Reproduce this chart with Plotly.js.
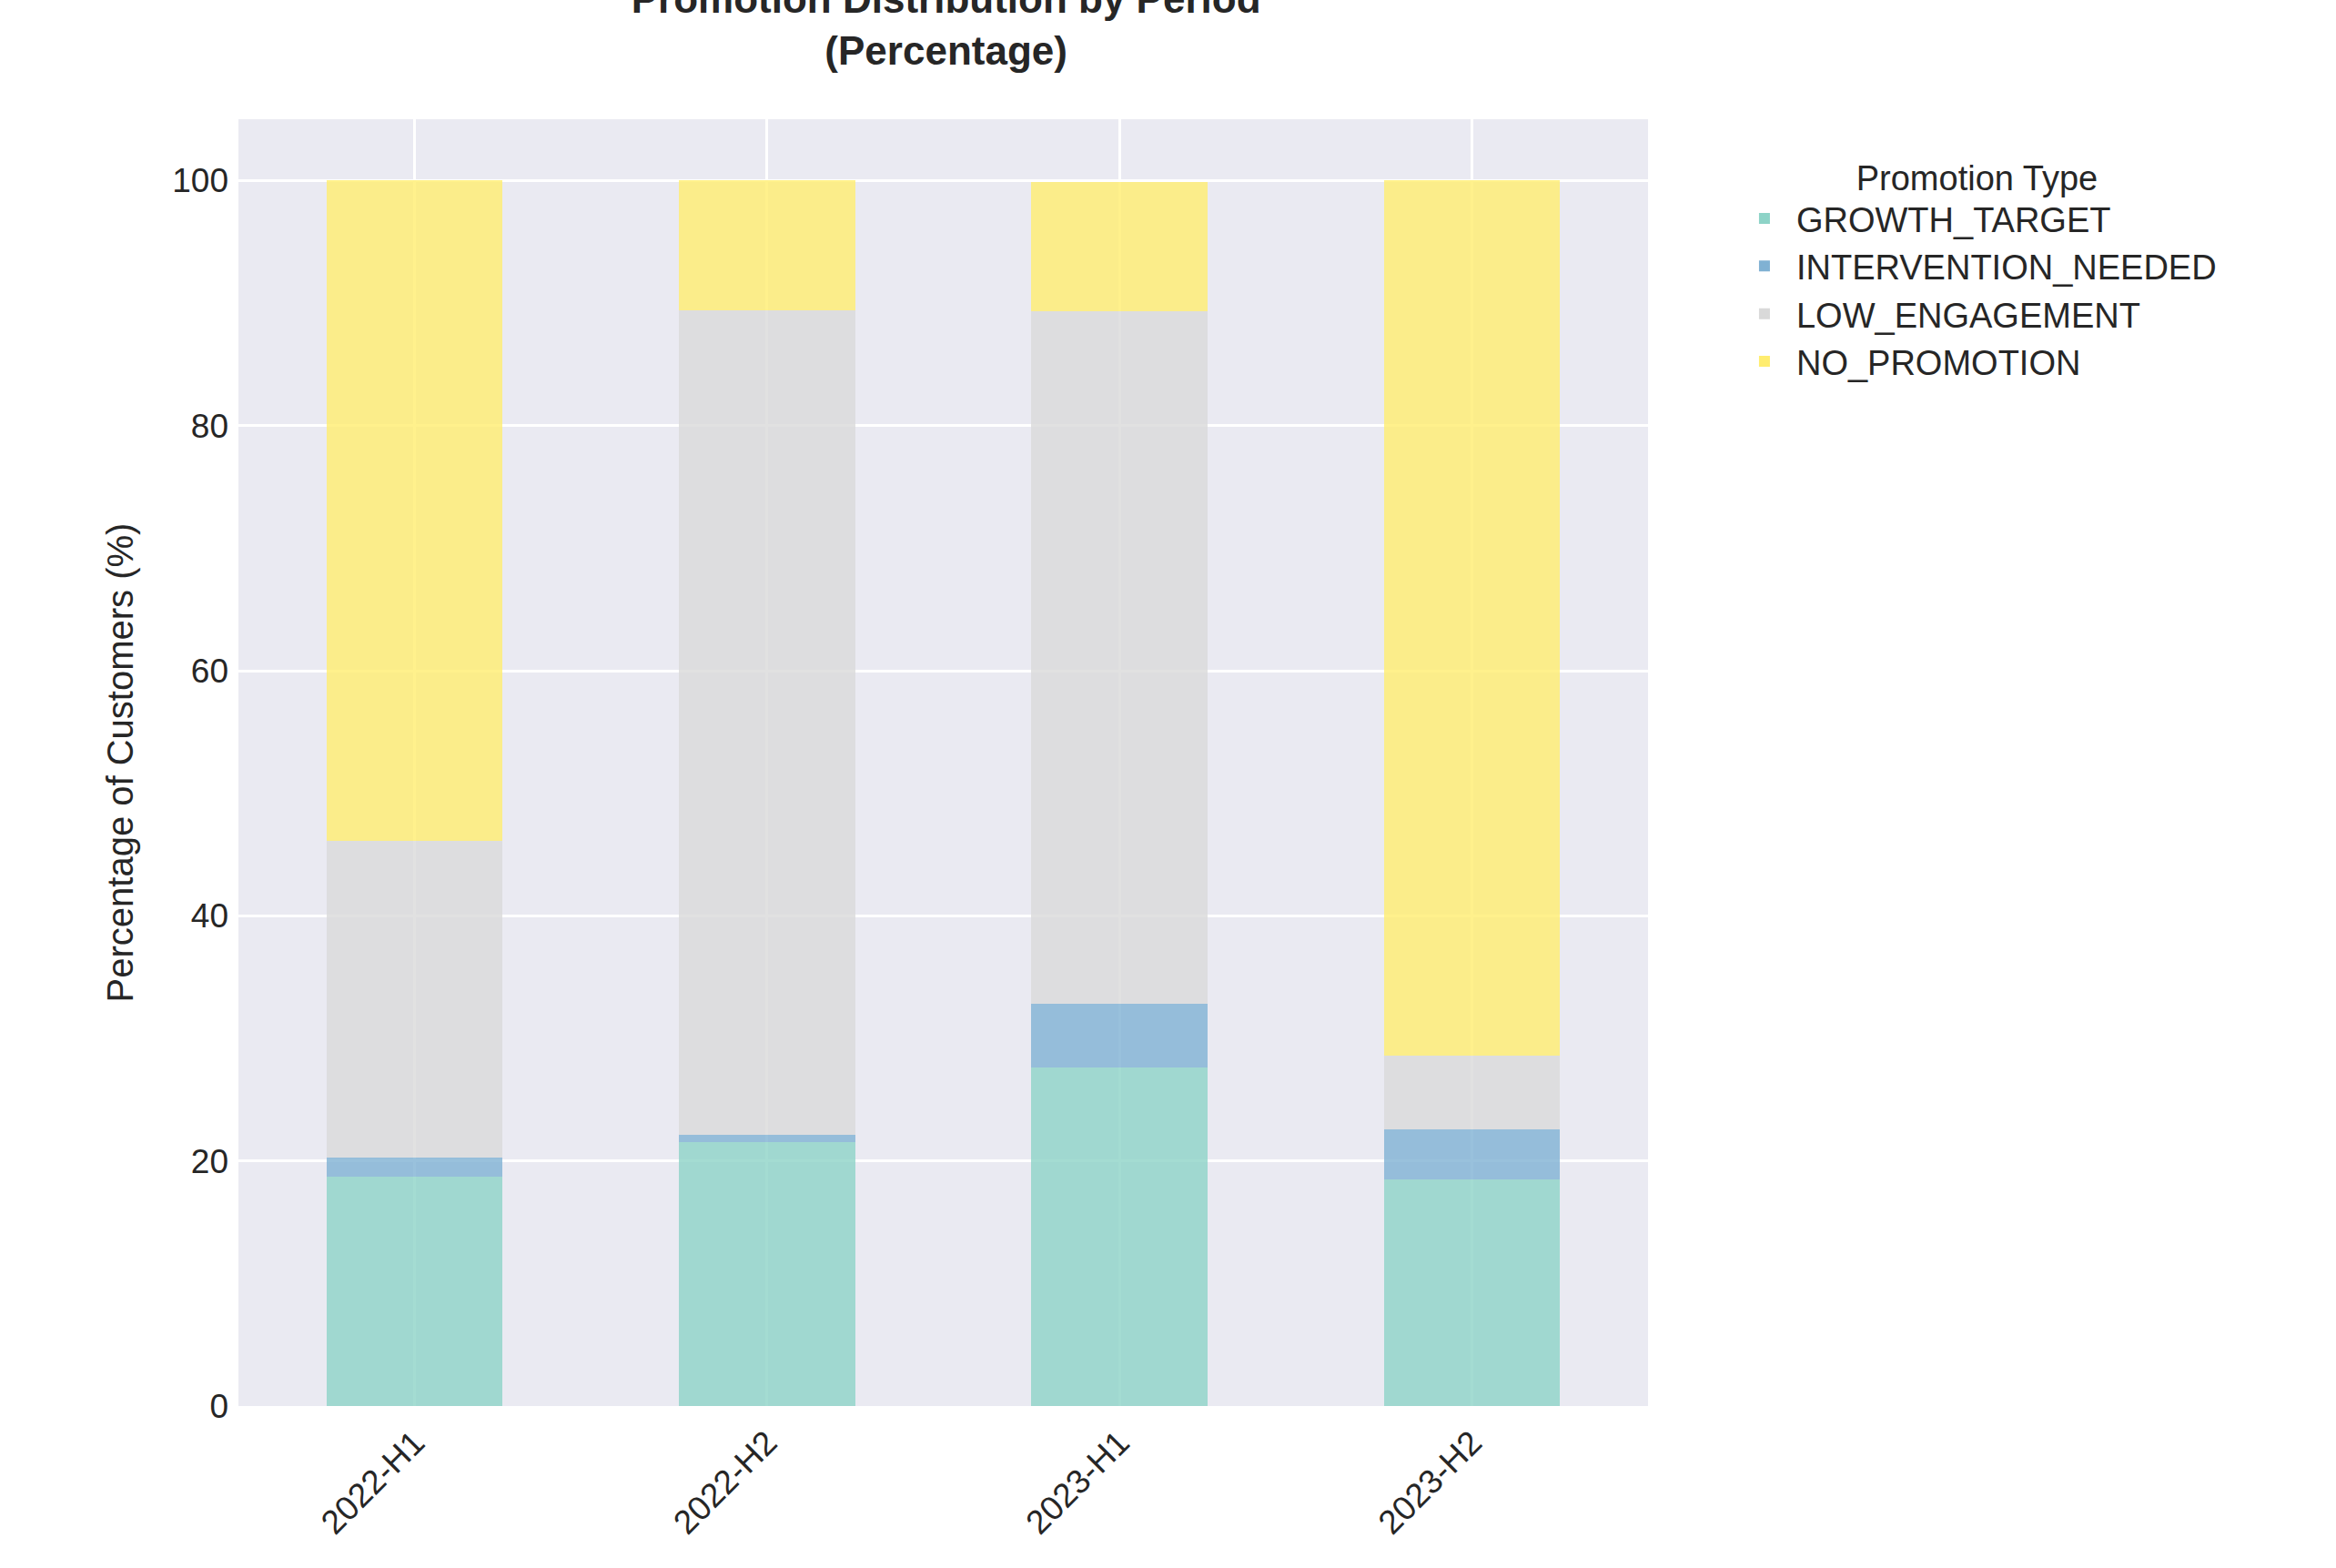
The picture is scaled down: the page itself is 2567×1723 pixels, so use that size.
<!DOCTYPE html>
<html>
<head>
<script src="https://cdn.plot.ly/plotly-3.0.1.min.js"></script>
<style>body{margin:0;background:#fff}#chart{width:2567px;height:1723px}</style>
</head>
<body>
<div id="chart"></div>
<script>
var periods = ['2022-H1', '2022-H2', '2023-H1', '2023-H2'];
var growthTarget = [18.7, 21.5, 27.6, 18.5];
var interventionNeeded = [1.6, 0.6, 5.2, 4.1];
var lowEngagement = [25.8, 67.3, 56.5, 6.0];
var noPromotion = [53.9, 10.6, 10.6, 71.4];

var names = ['GROWTH_TARGET', 'INTERVENTION_NEEDED', 'LOW_ENGAGEMENT', 'NO_PROMOTION'];
var series = [growthTarget, interventionNeeded, lowEngagement, noPromotion];
var colors = ['#8dd3c7', '#80b1d3', '#d9d9d9', '#ffed6f'];

var data = series.map(function (vals, i) {
  return {
    x: periods, y: vals, name: names[i], type: 'bar', width: 0.5,
    marker: {color: colors[i], opacity: 0.8, line: {width: 0}},
    hoverinfo: 'x+y+name'
  };
});

var layout = {
  barmode: 'stack',
  width: 2567, height: 1723,
  paper_bgcolor: '#ffffff', plot_bgcolor: '#eaeaf2',
  font: {family: 'Arial, Liberation Sans, sans-serif', size: 37, color: '#262626'},
  title: {text: '<b>Promotion Distribution by Period<br>(Percentage)</b>', x: 0.405, xanchor: 'center',
          yref: 'container', y: 0.992, yanchor: 'top', font: {size: 44}},
  margin: {l: 262, r: 756, t: 131, b: 178},
  xaxis: {tickangle: -45, gridcolor: '#ffffff', gridwidth: 3, showline: false, zeroline: false, ticks: '', ticklabelstandoff: 10},
  yaxis: {range: [0, 105], tickvals: [0, 20, 40, 60, 80, 100], gridcolor: '#ffffff', gridwidth: 3, zeroline: false,
          ticklabelstandoff: 10,
          title: {text: 'Percentage of Customers (%)', font: {size: 40}, standoff: 30}},
  legend: {x: 1.06, y: 0.98, xanchor: 'left', yanchor: 'top', traceorder: 'normal', itemwidth: 60, tracegroupgap: 8,
           title: {text: 'Promotion Type', side: 'top center', font: {size: 38}}, font: {size: 38}, bgcolor: 'rgba(0,0,0,0)'}
};

Plotly.newPlot('chart', data, layout, {displayModeBar: false});
</script>
</body>
</html>
